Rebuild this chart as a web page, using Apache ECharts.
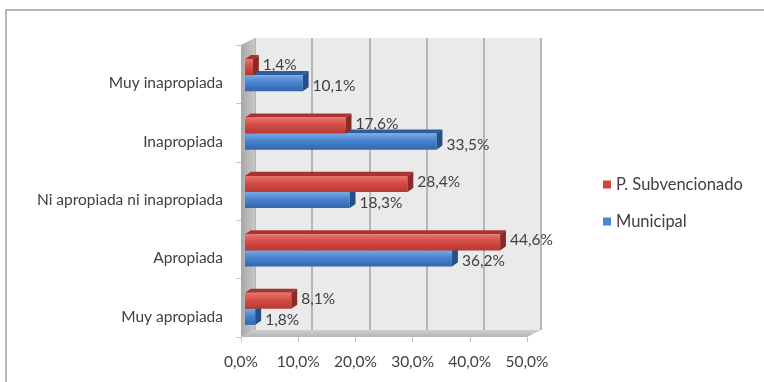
<!DOCTYPE html>
<html>
<head>
<meta charset="utf-8">
<script src="https://cdn.jsdelivr.net/npm/echarts@6/dist/echarts.min.js"></script>
<style>
  html, body { margin: 0; padding: 0; background: #ffffff; }
  #chart { width: 764px; height: 382px; }
</style>
</head>
<body>
<div id="chart"></div>
<script>
// Categories (top to bottom) and percentages per school type
const categories = ['Muy inapropiada', 'Inapropiada', 'Ni apropiada ni inapropiada', 'Apropiada', 'Muy apropiada'];
const subvencionado = [1.4, 17.6, 28.4, 44.6, 8.1];
const municipal = [10.1, 33.5, 18.3, 36.2, 1.8];
const xTicks = [0, 10, 20, 30, 40, 50];
const seriesNames = ['P. Subvencionado', 'Municipal'];

const FONT = 'Lato, "Open Sans", sans-serif';
const TEXT = '#404040';
const FS = 15.5;

// Front plane of the 3D box and its back wall (offset up/right for depth)
const front = { left: 241, top: 45, width: 286, height: 292 };
const back = { left: 255, top: 38, width: 286, height: 292 };

const fmt = v => v.toFixed(1).replace('.', ',') + '%';

const palette = {
  red: { face: ['#EA746D', '#D44C46', '#B73833'], top: '#A9332F', end: '#8C2825', base: '#D0463F' },
  blue: { face: ['#79AAE4', '#4883CF', '#3366AC'], top: '#2E5D9B', end: '#244F88', base: '#4A86D2' }
};

// Draws a bar as a small box: front face, top face and end cap, plus value label
function boxRenderer(pal, upper) {
  return function (params, api) {
    const v = api.value(0);
    const ci = api.value(1);
    const p0 = api.coord([0, ci]);
    const p1 = api.coord([v, ci]);
    const band = api.size([0, 1])[1];
    const h = band * 0.275;
    const dx = band * 0.1;
    const dy = band * 0.07;
    const shift = 4;
    const c = p0[1];
    const y0 = upper ? c - h + 1 : c + 1;
    const x0 = p0[0] + shift;
    const x1 = p1[0] + shift;
    const grad = new echarts.graphic.LinearGradient(0, 0, 0, 1, [
      { offset: 0, color: pal.face[0] },
      { offset: 0.45, color: pal.face[1] },
      { offset: 1, color: pal.face[2] }
    ]);
    const labelY = y0 + h / 2 + (upper ? -2 : 3);
    return {
      type: 'group',
      children: [
        { type: 'polygon', shape: { points: [[x0, y0], [x0 + dx, y0 - dy], [x1 + dx, y0 - dy], [x1, y0]] },
          style: { fill: pal.top } },
        { type: 'rect', shape: { x: x0, y: y0, width: Math.max(x1 - x0, 0.5), height: h },
          style: { fill: grad } },
        { type: 'polygon', shape: { points: [[x1, y0], [x1 + dx, y0 - dy], [x1 + dx, y0 + h - dy], [x1, y0 + h]] },
          style: { fill: pal.end } },
        { type: 'text', x: x1 + dx + 4, y: labelY,
          style: { text: fmt(v), fill: TEXT, fontSize: FS, fontFamily: FONT,
                   align: 'left', verticalAlign: 'middle' } }
      ]
    };
  };
}

const chart = echarts.init(document.getElementById('chart'), null, { renderer: 'canvas' });

const wallGrad = new echarts.graphic.LinearGradient(0, 0, 1, 0, [
  { offset: 0, color: '#A8A8A8' }, { offset: 1, color: '#C8C8C8' }
]);
const floorGrad = new echarts.graphic.LinearGradient(0, 0, 0, 1, [
  { offset: 0, color: '#CFCFCF' }, { offset: 1, color: '#B4B4B4' }
]);

const fl = front.left, ft = front.top, fr = front.left + front.width, fb = front.top + front.height;
const bl = back.left, bt = back.top, br = back.left + back.width, bb = back.top + back.height;

chart.setOption({
  animation: false,
  backgroundColor: '#ffffff',
  textStyle: { fontFamily: FONT },
  legend: {
    data: seriesNames,
    orient: 'vertical',
    left: 598, top: 171,
    icon: 'rect', itemWidth: 8, itemHeight: 8, itemGap: 20,
    textStyle: { fontSize: 16.5, color: TEXT, fontFamily: FONT }
  },
  grid: [
    Object.assign({ show: false, containLabel: false }, front),
    Object.assign({ show: true, backgroundColor: '#EAEAEA', borderWidth: 0 }, back)
  ],
  xAxis: [
    {
      type: 'value', gridIndex: 0,
      min: xTicks[0], max: xTicks[xTicks.length - 1], interval: xTicks[1] - xTicks[0],
      axisLine: { show: false },
      axisTick: { show: true, length: 5, lineStyle: { color: '#BDBDBD' } },
      splitLine: { show: false },
      axisLabel: { margin: 17, fontSize: FS, color: TEXT, fontFamily: FONT, formatter: fmt }
    },
    {
      type: 'value', gridIndex: 1,
      min: xTicks[0], max: xTicks[xTicks.length - 1], interval: xTicks[1] - xTicks[0],
      axisLine: { show: false }, axisTick: { show: false }, axisLabel: { show: false },
      splitLine: { show: true, lineStyle: { color: '#A4A4A4', width: 1.5 } }
    }
  ],
  yAxis: [
    {
      type: 'category', gridIndex: 0, data: categories, inverse: true,
      axisLine: { show: false },
      axisTick: { show: true, length: 5, lineStyle: { color: '#C4C4C4' } },
      axisLabel: { margin: 18, fontSize: FS, color: TEXT, fontFamily: FONT,
                   verticalAlign: 'top', lineHeight: 18 }
    },
    {
      type: 'category', gridIndex: 1, data: categories, inverse: true,
      axisLine: { show: false }, axisTick: { show: false }, axisLabel: { show: false },
      splitLine: { show: false }
    }
  ],
  graphic: [
    // outer frame
    { type: 'polyline', z: 10, shape: { points: [[6, 382], [6, 10], [764, 10]] },
      style: { stroke: '#9E9E9E', lineWidth: 1.5, fill: null } },
    // left side wall
    { type: 'polygon', z: 1, shape: { points: [[fl, ft], [bl, bt], [bl, bb], [fl, fb]] },
      style: { fill: wallGrad } },
    // floor
    { type: 'polygon', z: 1, shape: { points: [[fl, fb], [bl, bb], [br, bb], [fr, fb]] },
      style: { fill: floorGrad } }
  ],
  series: [
    {
      name: seriesNames[1], type: 'custom', xAxisIndex: 0, yAxisIndex: 0, z: 5,
      itemStyle: { color: palette.blue.base },
      encode: { x: 0, y: 1 },
      renderItem: boxRenderer(palette.blue, false),
      data: municipal.map((v, i) => [v, i])
    },
    {
      name: seriesNames[0], type: 'custom', xAxisIndex: 0, yAxisIndex: 0, z: 6,
      itemStyle: { color: palette.red.base },
      encode: { x: 0, y: 1 },
      renderItem: boxRenderer(palette.red, true),
      data: subvencionado.map((v, i) => [v, i])
    }
  ]
});
</script>
</body>
</html>
